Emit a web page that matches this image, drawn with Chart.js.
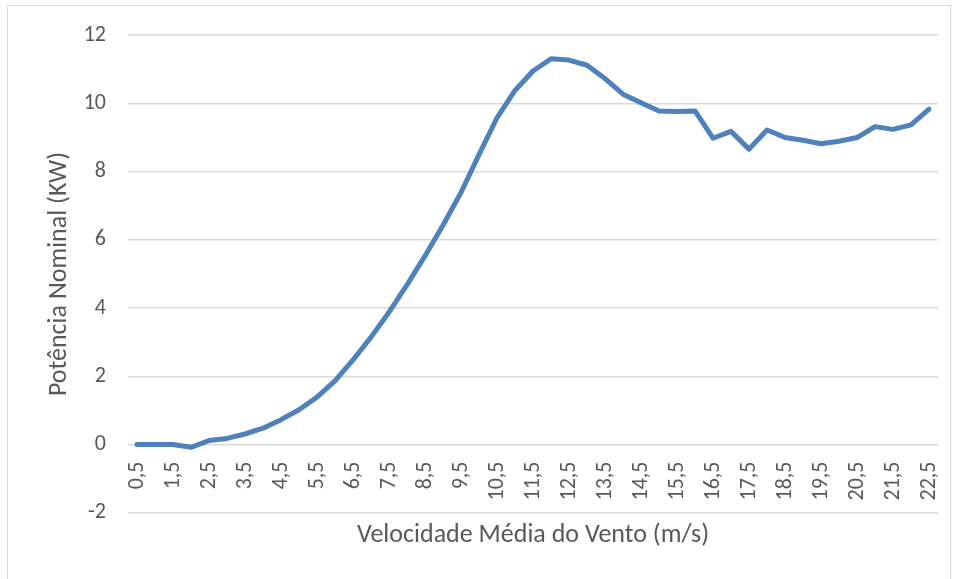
<!DOCTYPE html>
<html>
<head>
<meta charset="utf-8">
<script src="https://cdn.jsdelivr.net/npm/chart.js@4/dist/chart.umd.min.js"></script>
<style>
  html, body { margin: 0; padding: 0; background: #fff; }
  #wrap { position: relative; width: 958px; height: 579px; }
</style>
</head>
<body>
<div id="wrap"><canvas id="chart" width="958" height="579"></canvas></div>
<script>
// wind speed categories (m/s), 0.5 steps
const velocidades = ['0,5','1','1,5','2','2,5','3','3,5','4','4,5','5',
  '5,5','6','6,5','7','7,5','8','8,5','9','9,5','10',
  '10,5','11','11,5','12','12,5','13','13,5','14','14,5','15',
  '15,5','16','16,5','17','17,5','18','18,5','19','19,5','20',
  '20,5','21','21,5','22','22,5'];

// nominal power (kW)
const potencia = [0, 0, 0, -0.08, 0.12, 0.18, 0.31, 0.48, 0.73, 1.02,
  1.39, 1.87, 2.48, 3.15, 3.88, 4.68, 5.53, 6.43, 7.39, 8.5,
  9.58, 10.38, 10.95, 11.31, 11.27, 11.12, 10.73, 10.27, 10.02, 9.78,
  9.76, 9.78, 8.98, 9.18, 8.66, 9.22, 9.0, 8.92, 8.82, 8.89,
  9.0, 9.32, 9.24, 9.37, 9.83];

const yTicks = [-2, 0, 2, 4, 6, 8, 10, 12];

const fontFam = 'Carlito, Calibri, Lato, sans-serif';

// light grey frame round the whole chart
const framePlugin = {
    id: 'frame',
    beforeDraw(chart) {
        const c = chart.ctx;
        c.save();
        c.fillStyle = '#fff';
        c.fillRect(0, 0, chart.width, chart.height);
        c.strokeStyle = '#d9d9d9';
        c.lineWidth = 1;
        c.strokeRect(7.5, 5.5, 943, 600);
        c.restore();
    }
};

// no extra side padding from the horizontal axes
function noSidePad(scale) {
    scale.paddingLeft = 0;
    scale.paddingRight = 0;
}

const ctx = document.getElementById('chart');
new Chart(ctx, {
    type: 'line',
    data: {
        labels: velocidades,
        datasets: [{
            label: 'Potência',
            data: potencia,
            borderColor: '#4f81bd',
            borderWidth: 5,
            pointRadius: 0,
            tension: 0,
            borderCapStyle: 'round',
            borderJoinStyle: 'round'
        }]
    },
    options: {
        responsive: false,
        animation: false,
        layout: { padding: { left: 0, right: 20, top: 26, bottom: 0 } },
        plugins: {
            legend: { display: false },
            tooltip: { enabled: false }
        },
        scales: {
            x: {
                // category labels sit on the zero line, as in the original
                position: { y: 0 },
                offset: true,
                grid: { display: false, drawTicks: false },
                border: { display: false },
                ticks: {
                    autoSkip: false,
                    maxRotation: 90,
                    minRotation: 90,
                    color: '#595959',
                    padding: 17,
                    font: { family: fontFam, size: 22 },
                    callback: function (val, idx) {
                        return idx % 2 === 0 ? velocidades[idx] : '';
                    }
                },
                afterFit: noSidePad
            },
            // empty axis at the bottom, only to carry the axis title
            xTitle: {
                type: 'category',
                position: 'bottom',
                offset: true,
                grid: { display: false, drawTicks: false },
                border: { display: false },
                ticks: { display: false },
                title: {
                    display: true,
                    text: 'Velocidade Média do Vento (m/s)',
                    color: '#595959',
                    font: { family: fontFam, size: 26 },
                    padding: { top: 7, bottom: 28 }
                },
                afterFit: noSidePad
            },
            y: {
                min: -2,
                max: 12,
                afterBuildTicks: function (scale) {
                    scale.ticks = yTicks.map(v => ({ value: v }));
                },
                grid: { color: '#d9d9d9', lineWidth: 1.5, drawTicks: false },
                border: { display: false },
                ticks: {
                    color: '#595959',
                    padding: 22,
                    font: { family: fontFam, size: 22 }
                },
                title: {
                    display: true,
                    text: 'Potência Nominal (KW)',
                    color: '#595959',
                    font: { family: fontFam, size: 26 },
                    padding: { top: 44, bottom: 0 }
                },
                afterFit: function (scale) { scale.width = 128; }
            }
        }
    },
    plugins: [framePlugin]
});
</script>
</body>
</html>
